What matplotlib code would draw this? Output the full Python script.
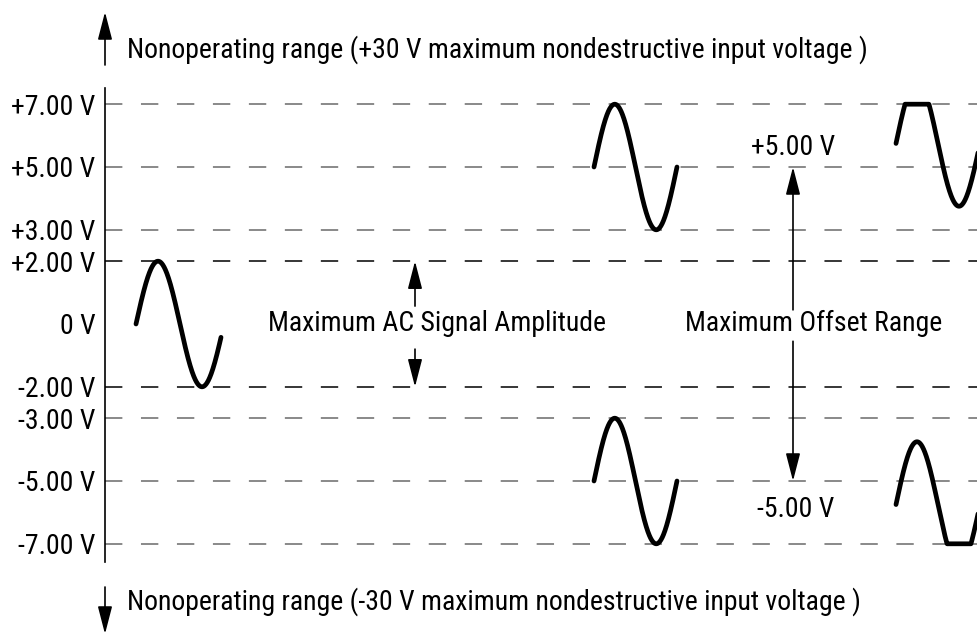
import numpy as np
import matplotlib
matplotlib.use("Agg")
import matplotlib.pyplot as plt

plt.rcParams['font.family'] = ['Roboto Condensed', 'Archivo Narrow', 'Liberation Sans', 'DejaVu Sans']
plt.rcParams['lines.scale_dashes'] = False

# ---- data ----
level_values = [7, 5, 3, 2, 0, -2, -3, -5, -7]
level_labels = ["+7.00 V", "+5.00 V", "+3.00 V", "+2.00 V", "0 V",
                "-2.00 V", "-3.00 V", "-5.00 V", "-7.00 V"]
dashed_levels = [7, 5, 3, 2, -2, -3, -5, -7]
dark_levels = [2, -2]

wave_start_x = [136, 594, 594, 896, 896]
wave_offsets = [0.0, 5.0, -5.0, 5.75, -5.75]
wave_amps = [2.0, 2.0, 2.0, 2.0, 2.0]
wave_periods = [88, 83, 83, 84, 84]
wave_cycles = [0.966, 1.0, 1.0, 1.0, 1.0]
clip_limit = 7.0

ac_amplitude = 2.0
offset_range = 5.0

FS = 20

# ---- figure ----
W, H = 978, 634
fig = plt.figure(figsize=(W / 100, H / 100), dpi=100)
ax = fig.add_axes([0, 0, 1, 1])
px_per_v = 31.4
y0_px = 324
ax.set_xlim(0, W)
ax.set_ylim((y0_px - H) / px_per_v, y0_px / px_per_v)

axis_x = 105
for s in ['top', 'right', 'bottom']:
    ax.spines[s].set_visible(False)
ax.spines['left'].set_position(('data', axis_x))
ax.spines['left'].set_bounds(-7.58, 7.52)
ax.spines['left'].set_linewidth(1.2)
ax.set_xticks([])
ax.set_yticks(level_values)
ax.set_yticklabels(level_labels)
ax.tick_params(axis='y', which='major', length=0, pad=7, labelsize=FS)
ax.set_yticks([0], minor=True)
ax.tick_params(axis='y', which='minor', direction='inout', length=10, width=1.0)
ax.patch.set_alpha(0)

# dashed level lines
for v in dashed_levels:
    col = 'black' if v in dark_levels else '#6a6a6a'
    ax.plot([axis_x, W], [v, v], color=col, lw=1.1,
            dashes=(12.5, 13.4), dash_capstyle='butt')

# waves
for xs, off, amp, per, cyc in zip(wave_start_x, wave_offsets, wave_amps,
                                  wave_periods, wave_cycles):
    t = np.linspace(0, cyc, 400)
    x = xs + t * per
    y = off + amp * np.sin(2 * np.pi * t)
    y = np.clip(y, -clip_limit, clip_limit)
    ax.plot(x, y, color='black', lw=3.4, solid_capstyle='round',
            solid_joinstyle='round', clip_on=False)

arrow_kw = dict(arrowstyle='-|>,head_length=0.85,head_width=0.22',
                color='black', lw=1.2, shrinkA=0, shrinkB=0, mutation_scale=20)

# AC amplitude arrows
ac_x = 415
ax.annotate('', xy=(ac_x, ac_amplitude), xytext=(ac_x, 0.57), arrowprops=arrow_kw)
ax.annotate('', xy=(ac_x, -ac_amplitude), xytext=(ac_x, -0.8), arrowprops=arrow_kw)
ax.text(268, 0.03, "Maximum AC Signal Amplitude", fontsize=FS,
        ha='left', va='center')

# offset range arrows
off_x = 793
ax.annotate('', xy=(off_x, offset_range), xytext=(off_x, 0.45), arrowprops=arrow_kw)
ax.annotate('', xy=(off_x, -offset_range), xytext=(off_x, -0.55), arrowprops=arrow_kw)
ax.text(685, 0.03, "Maximum Offset Range", fontsize=FS, ha='left', va='center')
ax.text(off_x, 5.62, "+5.00 V", fontsize=FS, ha='center', va='center')
ax.text(off_x + 3, -5.9, "-5.00 V", fontsize=FS, ha='center', va='center')

# nonoperating range arrows and labels
ax.annotate('', xy=(axis_x, (y0_px - 12) / px_per_v),
            xytext=(axis_x, (y0_px - 65) / px_per_v), arrowprops=arrow_kw)
ax.annotate('', xy=(axis_x, (y0_px - 634) / px_per_v),
            xytext=(axis_x, (y0_px - 587) / px_per_v), arrowprops=arrow_kw)
ax.text(127, (y0_px - 50) / px_per_v,
        "Nonoperating range (+30 V maximum nondestructive input voltage )",
        fontsize=FS, ha='left', va='center')
ax.text(127, (y0_px - 602) / px_per_v,
        "Nonoperating range (-30 V maximum nondestructive input voltage )",
        fontsize=FS, ha='left', va='center')

fig.savefig('out.png', dpi=100)
